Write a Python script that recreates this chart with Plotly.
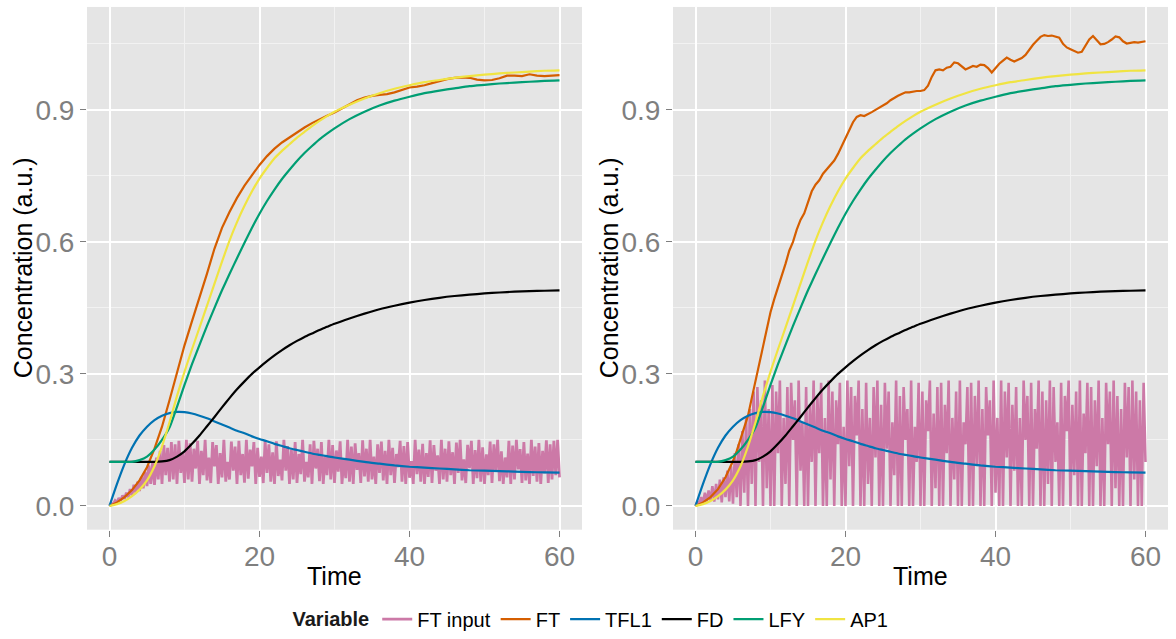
import plotly.graph_objects as go

# ---------------- data ----------------
series_names = ["FT input", "FT", "TFL1", "FD", "LFY", "AP1"]
series_colors = ["#CC79A7", "#D55E00", "#0072B2", "#000000", "#009E73", "#F0E442"]

# common time grid for the smooth (deterministic) curves
t_smooth = list(range(0, 31)) + list(range(32, 61, 2))

lfy = [0.1, 0.1, 0.1, 0.1, 0.104, 0.112, 0.128, 0.15, 0.178, 0.225, 0.275, 0.322, 0.366, 0.409,
       0.45, 0.49, 0.527, 0.563, 0.598, 0.632, 0.664, 0.693, 0.719, 0.743, 0.764, 0.784, 0.802,
       0.818, 0.833, 0.846, 0.858,
       0.879, 0.896, 0.91, 0.921, 0.93, 0.938, 0.944, 0.949, 0.954, 0.957, 0.96, 0.962, 0.964,
       0.966, 0.967]

ap1 = [0.0, 0.004, 0.011, 0.022, 0.037, 0.058, 0.09, 0.135, 0.19, 0.25, 0.305, 0.356, 0.405,
       0.455, 0.505, 0.555, 0.603, 0.645, 0.682, 0.715, 0.744, 0.768, 0.79, 0.807, 0.822, 0.837,
       0.85, 0.863, 0.875, 0.886, 0.896,
       0.912, 0.926, 0.938, 0.948, 0.956, 0.963, 0.968, 0.973, 0.977, 0.98, 0.983, 0.985, 0.987,
       0.989, 0.99]

tfl1 = [0.0, 0.05, 0.095, 0.132, 0.16, 0.18, 0.195, 0.205, 0.211, 0.2135, 0.213, 0.21, 0.205,
        0.199, 0.192, 0.185, 0.178, 0.171, 0.165, 0.158, 0.152, 0.147, 0.141, 0.136, 0.131,
        0.127, 0.123, 0.119, 0.116, 0.113, 0.11,
        0.105, 0.1, 0.096, 0.092, 0.089, 0.087, 0.085, 0.083, 0.081, 0.08, 0.079, 0.078, 0.077,
        0.076, 0.0755]

fd = [0.1, 0.1, 0.1, 0.1, 0.1, 0.1, 0.1, 0.101, 0.104, 0.112, 0.124, 0.141, 0.16, 0.181, 0.202,
      0.224, 0.245, 0.265, 0.283, 0.3, 0.315, 0.329, 0.342, 0.354, 0.365, 0.375, 0.384, 0.392,
      0.4, 0.407, 0.414,
      0.426, 0.437, 0.447, 0.455, 0.462, 0.468, 0.473, 0.477, 0.48, 0.483, 0.485, 0.487, 0.488,
      0.489, 0.49]

# FT, left panel (time 0..60 step 1)
t_ft_left = list(range(0, 61))
ft_left = [0.0, 0.008, 0.02, 0.036, 0.058, 0.088, 0.13, 0.18, 0.24, 0.305, 0.365, 0.42, 0.472,
           0.528, 0.585, 0.632, 0.668, 0.7, 0.728, 0.753, 0.775, 0.795, 0.812, 0.826, 0.838,
           0.85, 0.86, 0.87, 0.879, 0.887, 0.894, 0.903, 0.913, 0.922, 0.928, 0.932, 0.934,
           0.936, 0.94, 0.946, 0.951, 0.953, 0.956, 0.961, 0.966, 0.97, 0.973, 0.974, 0.973,
           0.969, 0.967, 0.968, 0.972, 0.978, 0.978, 0.977, 0.981, 0.978, 0.977, 0.978, 0.979]

# FT, right panel
t_ft_right = [0, 1, 2, 3, 4, 5, 5.5, 6, 6.5, 7, 7.5, 8, 8.5, 9, 9.5, 10, 10.5, 11, 11.5, 12, 12.5,
              13, 13.5, 14, 14.5, 15, 15.5, 16, 16.5, 17, 17.5, 18, 18.5, 19, 19.5, 20, 20.5, 21,
              21.5, 22, 22.5, 23, 23.5, 24, 24.5, 25, 25.5, 26, 26.5, 27, 27.5, 28, 28.5, 29,
              29.5, 30, 30.5, 31, 31.5, 32, 32.5, 33, 33.5, 34, 34.5, 35, 35.5, 36, 36.5, 37,
              37.5, 38, 38.5, 39, 39.5, 40, 40.5, 41, 41.5, 42, 42.5, 43, 43.5, 44, 44.5, 45,
              45.5, 46, 46.5, 47, 47.5, 48, 48.5, 49, 49.5, 50, 50.5, 51, 51.5, 52, 52.5, 53,
              53.5, 54, 54.5, 55, 55.5, 56, 56.5, 57, 57.5, 58, 58.5, 59, 59.5, 60]
ft_right = [0.0, 0.008, 0.02, 0.038, 0.065, 0.102, 0.125, 0.15, 0.177, 0.205, 0.245, 0.285,
            0.325, 0.366, 0.405, 0.44, 0.47, 0.495, 0.525, 0.55, 0.58, 0.6, 0.628, 0.65, 0.665,
            0.69, 0.715, 0.73, 0.74, 0.755, 0.765, 0.775, 0.785, 0.8, 0.818, 0.835, 0.855,
            0.872, 0.884, 0.888, 0.886, 0.89, 0.895, 0.9, 0.905, 0.91, 0.915, 0.922, 0.928,
            0.932, 0.936, 0.94, 0.94, 0.942, 0.943, 0.943, 0.945, 0.955, 0.975, 0.99, 0.992,
            0.99, 0.996, 0.998, 1.008, 1.006, 0.998, 0.992, 0.996, 1.0, 0.998, 1.003, 1.002,
            0.995, 0.985, 0.995, 1.005, 1.012, 1.019, 1.014, 1.01, 1.014, 1.018, 1.025, 1.037,
            1.048, 1.057, 1.066, 1.07, 1.068, 1.069, 1.066, 1.064, 1.05, 1.042, 1.038, 1.034,
            1.03, 1.032, 1.045, 1.06, 1.068, 1.058, 1.049, 1.05, 1.054, 1.06, 1.067, 1.065,
            1.056, 1.051, 1.053, 1.054, 1.053, 1.055, 1.056]

# FT input (sampled every 0.25 time units, 0..60)
input_step = 0.25
ft_input_left = [
    0.0, 0.006, 0.004, 0.012, 0.008, 0.018, 0.012, 0.024, 0.016,
    0.03, 0.02, 0.038, 0.024, 0.048, 0.03, 0.055, 0.034,
    0.066, 0.04, 0.078, 0.045, 0.092, 0.05, 0.1, 0.048,
    0.11, 0.06, 0.125, 0.05, 0.138, 0.07, 0.132, 0.055,
    0.145, 0.06, 0.14, 0.05, 0.148, 0.075, 0.12, 0.052, 0.15,
    0.06, 0.142, 0.055, 0.13, 0.085, 0.148, 0.05, 0.125,
    0.07, 0.15, 0.058, 0.11, 0.052, 0.145, 0.09, 0.138,
    0.05, 0.12, 0.065, 0.15, 0.055, 0.1, 0.06, 0.146,
    0.08, 0.135, 0.05, 0.148, 0.07, 0.118, 0.053, 0.15,
    0.062, 0.128, 0.09, 0.145, 0.05, 0.132, 0.066, 0.112,
    0.052, 0.149, 0.075, 0.14, 0.055, 0.122, 0.05, 0.147,
    0.068, 0.105, 0.058, 0.15, 0.08, 0.136, 0.05, 0.128,
    0.06, 0.145, 0.052, 0.118, 0.072, 0.15, 0.055, 0.1,
    0.065, 0.14, 0.05, 0.148, 0.085, 0.13, 0.056, 0.145,
    0.05, 0.115, 0.07, 0.15, 0.06, 0.138, 0.052, 0.126,
    0.078, 0.147, 0.05, 0.108, 0.063, 0.15, 0.055, 0.135,
    0.05, 0.142, 0.082, 0.12, 0.052, 0.149, 0.067, 0.13,
    0.055, 0.15, 0.06, 0.112, 0.05, 0.14, 0.075, 0.146,
    0.058, 0.125, 0.05, 0.15, 0.07, 0.132, 0.052, 0.118,
    0.088, 0.148, 0.055, 0.136, 0.05, 0.145, 0.064, 0.102,
    0.05, 0.15, 0.072, 0.128, 0.055, 0.141, 0.05, 0.12,
    0.066, 0.149, 0.052, 0.138, 0.08, 0.115, 0.05, 0.15,
    0.06, 0.13, 0.055, 0.147, 0.07, 0.122, 0.05, 0.144,
    0.075, 0.15, 0.058, 0.106, 0.052, 0.139, 0.086, 0.148,
    0.05, 0.127, 0.063, 0.15, 0.055, 0.133, 0.05, 0.117,
    0.07, 0.146, 0.052, 0.14, 0.078, 0.15, 0.056, 0.124,
    0.05, 0.11, 0.065, 0.148, 0.05, 0.137, 0.06, 0.15,
    0.083, 0.129, 0.052, 0.145, 0.058, 0.119, 0.05, 0.15,
    0.068, 0.135, 0.055, 0.143, 0.05, 0.125, 0.074, 0.149,
    0.052, 0.14, 0.06, 0.148, 0.07, 0.15, 0.065,
]

ft_input_right = [
    0.0, 0.01, 0.004, 0.02, 0.006, 0.03, 0.01, 0.035, 0.012,
    0.045, 0.01, 0.05, 0.015, 0.06, 0.008, 0.065, 0.02,
    0.08, 0.01, 0.09, 0.005, 0.12, 0.02, 0.14, 0.0,
    0.17, 0.03, 0.2, 0.0, 0.22, 0.05, 0.26, 0.0,
    0.27, 0.1, 0.24, 0.0, 0.285, 0.04, 0.22, 0.0, 0.275,
    0.0, 0.26, 0.12, 0.285, 0.0, 0.2, 0.05, 0.27,
    0.0, 0.28, 0.15, 0.24, 0.0, 0.285, 0.08, 0.19,
    0.0, 0.27, 0.0, 0.23, 0.1, 0.285, 0.0, 0.25,
    0.12, 0.28, 0.0, 0.2, 0.0, 0.285, 0.06, 0.26,
    0.0, 0.24, 0.14, 0.28, 0.0, 0.18, 0.0, 0.285,
    0.09, 0.27, 0.0, 0.25, 0.16, 0.285, 0.0, 0.22,
    0.0, 0.28, 0.05, 0.2, 0.0, 0.27, 0.11, 0.285,
    0.0, 0.23, 0.0, 0.28, 0.13, 0.26, 0.0, 0.19,
    0.07, 0.285, 0.0, 0.25, 0.0, 0.27, 0.15, 0.22,
    0.0, 0.285, 0.0, 0.18, 0.1, 0.28, 0.0, 0.26,
    0.0, 0.24, 0.17, 0.285, 0.0, 0.21, 0.04, 0.27,
    0.0, 0.28, 0.0, 0.23, 0.12, 0.285, 0.0, 0.2,
    0.06, 0.26, 0.0, 0.285, 0.0, 0.19, 0.14, 0.27,
    0.0, 0.28, 0.0, 0.25, 0.09, 0.285, 0.0, 0.22,
    0.0, 0.27, 0.16, 0.24, 0.0, 0.285, 0.03, 0.2,
    0.0, 0.285, 0.0, 0.26, 0.11, 0.28, 0.0, 0.23,
    0.08, 0.27, 0.0, 0.2, 0.0, 0.285, 0.15, 0.25,
    0.0, 0.28, 0.0, 0.22, 0.13, 0.285, 0.0, 0.26,
    0.0, 0.24, 0.05, 0.285, 0.0, 0.27, 0.1, 0.19,
    0.0, 0.28, 0.0, 0.25, 0.17, 0.285, 0.0, 0.23,
    0.07, 0.26, 0.0, 0.285, 0.0, 0.21, 0.12, 0.28,
    0.0, 0.27, 0.0, 0.24, 0.09, 0.285, 0.0, 0.2,
    0.0, 0.28, 0.14, 0.26, 0.0, 0.285, 0.04, 0.25,
    0.0, 0.22, 0.0, 0.28, 0.11, 0.27, 0.0, 0.285,
    0.06, 0.26, 0.0, 0.24, 0.0, 0.28, 0.1,
]

x_ticks = [0, 20, 40, 60]
y_ticks = [0.0, 0.3, 0.6, 0.9]
y_tick_labels = ["0.0", "0.3", "0.6", "0.9"]

# ---------------- figure ----------------
FONT = "Liberation Sans, Arial, sans-serif"
W, H = 1176, 639

t_in_left = [i * input_step for i in range(len(ft_input_left))]
t_in_right = [i * input_step for i in range(len(ft_input_right))]

panels = [
    dict(xa="x", ya="y", inp=(t_in_left, ft_input_left), ft=(t_ft_left, ft_left), legend=True, inw=2.8),
    dict(xa="x2", ya="y2", inp=(t_in_right, ft_input_right), ft=(t_ft_right, ft_right), legend=False, inw=2.6),
]

fig = go.Figure()
for p in panels:
    curves = [
        p["inp"],
        p["ft"],
        (t_smooth, tfl1),
        (t_smooth, fd),
        (t_smooth, lfy),
        (t_smooth, ap1),
    ]
    for name, color, (tx, vy) in zip(series_names, series_colors, curves):
        if name == "FT input":
            line = dict(color=color, width=p["inw"], shape="linear")
        elif name == "FT":
            line = dict(color=color, width=2.2, shape="linear")
        else:
            line = dict(color=color, width=2.2, shape="spline", smoothing=0.6)
        fig.add_trace(go.Scatter(
            x=tx, y=vy, mode="lines", name=name, line=line,
            xaxis=p["xa"], yaxis=p["ya"],
            legendgroup=name, showlegend=p["legend"],
        ))

x_domains = [[87 / W, 582 / W], [673 / W, 1168 / W]]
y_domain = [1 - 533 / H, 1 - 7 / H]

axis_common = dict(
    showgrid=True, gridcolor="white", gridwidth=2,
    zeroline=False, showline=False,
    ticks="outside", ticklen=6, tickwidth=1.2, tickcolor="#7F7F7F",
    tickfont=dict(family=FONT, size=28, color="#7F7F7F"),
)

for i, dom in enumerate(x_domains):
    sfx = "" if i == 0 else str(i + 1)
    fig.layout["xaxis" + sfx] = dict(
        axis_common, domain=dom, range=[-3, 63], tickvals=x_ticks,
        anchor="y" + sfx, ticklabelstandoff=-4,
        minor=dict(dtick=10, tick0=0, showgrid=True, gridcolor="#F2F2F2", gridwidth=1, ticks=""),
    )
    fig.layout["yaxis" + sfx] = dict(
        axis_common, domain=y_domain, range=[-0.054, 1.134], tickvals=y_ticks,
        ticktext=y_tick_labels, anchor="x" + sfx,
        minor=dict(dtick=0.15, tick0=0, showgrid=True, gridcolor="#F2F2F2", gridwidth=1, ticks=""),
    )

annotations = []
for i, dom in enumerate(x_domains):
    cx = (dom[0] + dom[1]) / 2
    annotations.append(dict(
        text="Time", x=cx, y=1 - 580 / H, xref="paper", yref="paper",
        showarrow=False, font=dict(family=FONT, size=25, color="black"),
        xanchor="center", yanchor="middle",
    ))
    ytitle_x = [23 / W, 609 / W][i]
    annotations.append(dict(
        text="Concentration (a.u.)", x=ytitle_x, y=(y_domain[0] + y_domain[1]) / 2,
        xref="paper", yref="paper", textangle=-90, showarrow=False,
        font=dict(family=FONT, size=25, color="black"),
        xanchor="center", yanchor="middle",
    ))

fig.update_layout(
    width=W, height=H,
    margin=dict(l=0, r=0, t=0, b=0),
    paper_bgcolor="white", plot_bgcolor="#E5E5E5",
    font=dict(family=FONT, color="black"),
    annotations=annotations,
    legend=dict(
        orientation="h", x=592 / W, xanchor="center", y=1 - 623 / H, yanchor="middle",
        title=dict(text="<b>Variable</b>", font=dict(family=FONT, size=20, color="#1a1a1a")),
        font=dict(family=FONT, size=20, color="black"),
        itemwidth=30, bgcolor="rgba(0,0,0,0)",
    ),
    showlegend=True,
)

fig.write_html("out.html")
